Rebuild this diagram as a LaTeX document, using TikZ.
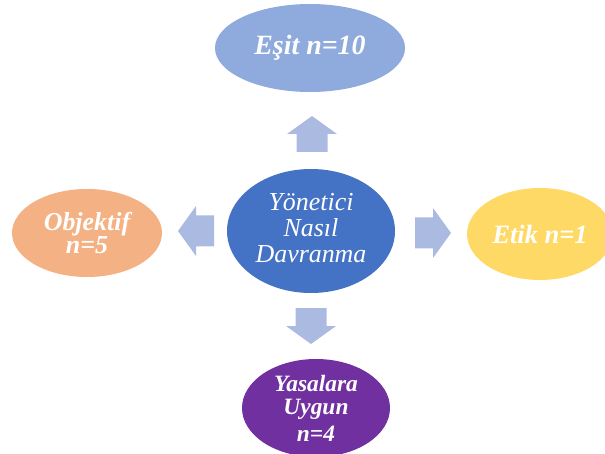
\documentclass[tikz,border=0pt]{standalone}
\usepackage{fontspec}
\setmainfont{Liberation Serif}
\usetikzlibrary{
  shapes.geometric,
}

\definecolor{esitblue}{HTML}{8FAADC}
\definecolor{midblue}{HTML}{4472C4}
\definecolor{arrowblue}{HTML}{ABBAE0}
\definecolor{objorange}{HTML}{F4B183}
\definecolor{etikyellow}{HTML}{FFD966}
\definecolor{yasapurple}{HTML}{7030A0}

\begin{document}
\begin{tikzpicture}[
  x=1bp, y=-1bp,
  blob/.style={ellipse, inner sep=0pt, text=white, align=center,
    font=\fontsize{26}{28}\selectfont\bfseries\itshape},
  blockarrow/.pic={
    \fill[arrowblue] (-18,-15.5) -- (0,-15.5) -- (0,-25) -- (18,0)
      -- (0,25) -- (0,15.5) -- (-18,15.5) -- cycle;
  },
]
\useasboundingbox (0,0) rectangle (605,454);
\clip (0,0) rectangle (605,454);
\node[blob, fill=midblue, minimum width=168bp, minimum height=124bp] (ctr) at (311,231) {};
\node[text=white, align=center, font=\fontsize{26}{26.5}\selectfont\itshape,
  yshift=3bp] (ctrtext) at (ctr) {Yönetici\\Nasıl\\Davranma};
\node[blob, fill=esitblue, minimum width=190bp, minimum height=88bp,
  font=\fontsize{28}{30}\selectfont\bfseries\itshape] (esit) at (310,48) {Eşit n=10};
\node[blob, fill=objorange, minimum width=150bp, minimum height=88bp,
  font=\fontsize{26}{24}\selectfont\bfseries\itshape] (obj) at (87,233) {Objektif\\n=5};
\node[blob, fill=etikyellow, minimum width=146bp, minimum height=92bp,
  font=\fontsize{26.5}{28}\selectfont\bfseries\itshape] (etik) at (540,234) {Etik n=1};
\node[blob, fill=yasapurple, minimum width=148bp, minimum height=98bp,
  font=\fontsize{23.5}{23}\selectfont\bfseries\itshape] (yasa) at (316,408) {Yasalara\\Uygun\\[4bp]n=4};
\pic[rotate=90] (up) at (312,134) {blockarrow};
\pic[rotate=180] (left) at (196,231) {blockarrow};
\pic (right) at (433,233) {blockarrow};
\pic[rotate=270] (down) at (311,326) {blockarrow};
\end{tikzpicture}
\end{document}
